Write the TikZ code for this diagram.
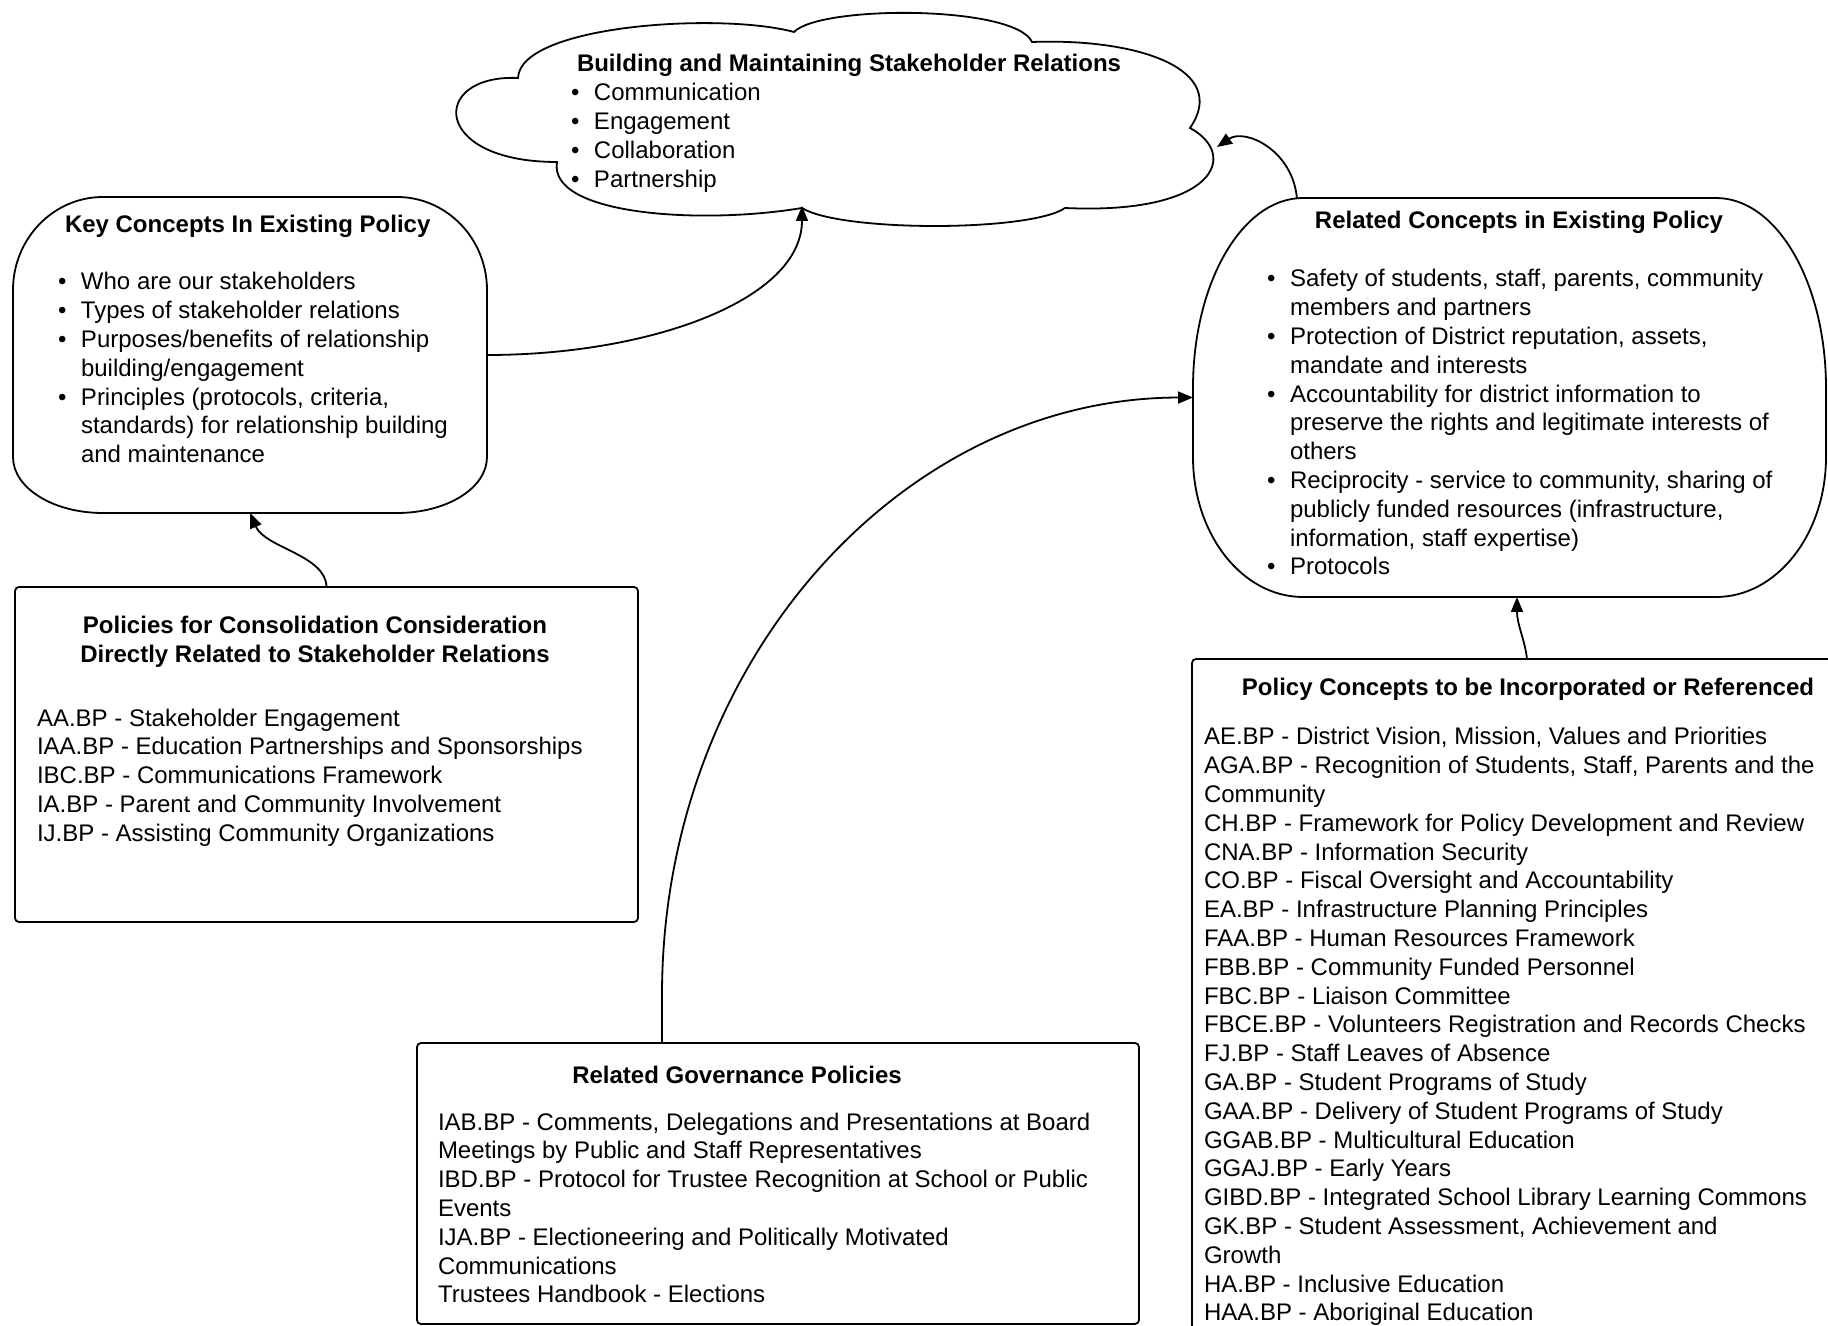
\documentclass[tikz,border=0pt]{standalone}
\usepackage{fontspec}
\setmainfont{Liberation Sans}
\usetikzlibrary{arrows.meta,calc}
\newcommand\myb{\makebox[11.5pt][l]{•}}
\newcommand\myi{\hspace*{11.5pt}}
\begin{document}
\begin{tikzpicture}[x=0.5pt,y=-0.5pt,
  txt/.style={inner sep=0pt, outer sep=0pt, anchor=base west, font=\fontsize{12}{14.4}\selectfont},
  ttl/.style={inner sep=0pt, outer sep=0pt, anchor=base, font=\fontsize{12}{14.4}\selectfont\bfseries},
  ttlw/.style={inner sep=0pt, outer sep=0pt, anchor=base west, font=\fontsize{12}{14.4}\selectfont\bfseries},
  outline/.style={draw=black, line width=0.9pt, fill=white},
  box/.style={draw=black, line width=0.9pt, rounded corners=2pt, inner sep=0pt, outer sep=0pt, fill=white},
  hull/.style={inner sep=0pt, outer sep=0pt},
  conn/.style={draw=black, line width=0.9pt, -{Triangle[length=7.5pt,width=6pt]}},
]
\useasboundingbox (0,0) rectangle (1828,1326);
\clip (0,0) rectangle (1828,1326);

% ---------- cloud ----------
\draw[outline] (518,78) .. controls (520,25) and (720,12) .. (794,32)
  .. controls (820,5) and (1015,5) .. (1032,42)
  .. controls (1140,38) and (1230,70) .. (1190,128)
  .. controls (1240,155) and (1215,215) .. (1065,208)
  .. controls (1030,232) and (840,232) .. (802,208)
  .. controls (700,225) and (548,215) .. (557,162)
  .. controls (430,162) and (430,74) .. (518,78) -- cycle;
\coordinate (cb) at (802,206);
\coordinate (cr) at (1217,147);
\node[ttlw] (ct) at (577,72) {Building and Maintaining Stakeholder Relations};
\node[txt] (ci) at (571,101) {\begin{tabular}[t]{@{}l@{}}
\myb Communication\\
\myb Engagement\\
\myb Collaboration\\
\myb Partnership
\end{tabular}};

% ---------- key concepts ----------
\draw[outline] (103,197) -- (397,197) .. controls (447,197) and (487,239) .. (487,290)
  -- (487,457) .. controls (487,488) and (447,513) .. (397,513)
  -- (103,513) .. controls (53,513) and (13,488) .. (13,457)
  -- (13,290) .. controls (13,239) and (53,197) .. (103,197) -- cycle;
\node[hull, minimum width=237pt, minimum height=158pt] (kc) at (250,355) {};
\node[ttlw] (kt) at (65,233) {Key Concepts In Existing Policy};
\node[txt] (ki) at (58,290) {\begin{tabular}[t]{@{}l@{}}
\myb Who are our stakeholders\\
\myb Types of stakeholder relations\\
\myb Purposes/benefits of relationship\\
\myi building/engagement\\
\myb Principles (protocols, criteria,\\
\myi standards) for relationship building\\
\myi and maintenance
\end{tabular}};

% ---------- related concepts ----------
\draw[outline] (1303,198) -- (1716,198) .. controls (1777,198) and (1826,283) .. (1826,388)
  -- (1826,457) .. controls (1826,534) and (1777,597) .. (1716,597)
  -- (1303,597) .. controls (1242,597) and (1193,534) .. (1193,457)
  -- (1193,388) .. controls (1193,283) and (1242,198) .. (1303,198) -- cycle;
\node[hull, minimum width=316.5pt, minimum height=199.5pt] (rc) at (1509.5,397.5) {};
\coordinate (rt) at (1297,199);
\coordinate (rb) at (1517,597);
\node[ttl] (rtl) at (1519,229) {Related Concepts in Existing Policy};
\node[txt] (ri) at (1267,287) {\begin{tabular}[t]{@{}l@{}}
\myb Safety of students, staff, parents, community\\
\myi members and partners\\
\myb Protection of District reputation, assets,\\
\myi mandate and interests\\
\myb Accountability for district information to\\
\myi preserve the rights and legitimate interests of\\
\myi others\\
\myb Reciprocity - service to community, sharing of\\
\myi publicly funded resources (infrastructure,\\
\myi information, staff expertise)\\
\myb Protocols
\end{tabular}};

% ---------- policies for consolidation ----------
\node[box, minimum width=311.5pt, minimum height=167.5pt] (pol) at (326.5,754.5) {};
\node[ttl] (polt) at (315,634) {\begin{tabular}[t]{@{}c@{}}
Policies for Consolidation Consideration\\
Directly Related to Stakeholder Relations
\end{tabular}};
\node[txt] (poli) at (37,726) {\begin{tabular}[t]{@{}l@{}}
AA.BP - Stakeholder Engagement\\
IAA.BP - Education Partnerships and Sponsorships\\
IBC.BP - Communications Framework\\
IA.BP - Parent and Community Involvement\\
IJ.BP - Assisting Community Organizations
\end{tabular}};

% ---------- related governance policies ----------
\node[box, minimum width=361pt, minimum height=140.5pt] (gov) at (778,1183.5) {};
\coordinate (gs) at ($(gov.north west)+(245,0)$);
\node[ttl] (govt) at (737,1083) {Related Governance Policies};
\node[txt] (govi) at (438,1130) {\begin{tabular}[t]{@{}l@{}}
IAB.BP - Comments, Delegations and Presentations at Board\\
Meetings by Public and Staff Representatives\\
IBD.BP - Protocol for Trustee Recognition at School or Public\\
Events\\
IJA.BP - Electioneering and Politically Motivated\\
Communications\\
Trustees Handbook - Elections
\end{tabular}};

% ---------- policy concepts ----------
\node[box, minimum width=335pt, minimum height=380pt] (pcb) at (1527,1039) {};
\node[ttl] (pcbt) at (1528,696) {Policy Concepts to be Incorporated or Referenced};
\node[txt] (pcbi) at (1204,745) {\begin{tabular}[t]{@{}l@{}}
AE.BP - District Vision, Mission, Values and Priorities\\
AGA.BP - Recognition of Students, Staff, Parents and the\\
Community\\
CH.BP - Framework for Policy Development and Review\\
CNA.BP - Information Security\\
CO.BP - Fiscal Oversight and Accountability\\
EA.BP - Infrastructure Planning Principles\\
FAA.BP - Human Resources Framework\\
FBB.BP - Community Funded Personnel\\
FBC.BP - Liaison Committee\\
FBCE.BP - Volunteers Registration and Records Checks\\
FJ.BP - Staff Leaves of Absence\\
GA.BP - Student Programs of Study\\
GAA.BP - Delivery of Student Programs of Study\\
GGAB.BP - Multicultural Education\\
GGAJ.BP - Early Years\\
GIBD.BP - Integrated School Library Learning Commons\\
GK.BP - Student Assessment, Achievement and\\
Growth\\
HA.BP - Inclusive Education\\
HAA.BP - Aboriginal Education
\end{tabular}};

% ---------- connectors ----------
\draw[conn] (kc.east) .. controls (650,355) and (802,300) .. (cb);
\draw[conn] (rt) .. controls (1293,150) and (1245,128) .. (cr);
\draw[conn] (gs) -- ++(0,-48) .. controls (662,665) and (899,398) .. (rc.west);
\draw[conn] (pol.north) .. controls (326,555) and (265,548) .. (kc.south);
\draw[conn] (pcb.north) .. controls (1525,640) and (1517,625) .. (rb);
\end{tikzpicture}
\end{document}
